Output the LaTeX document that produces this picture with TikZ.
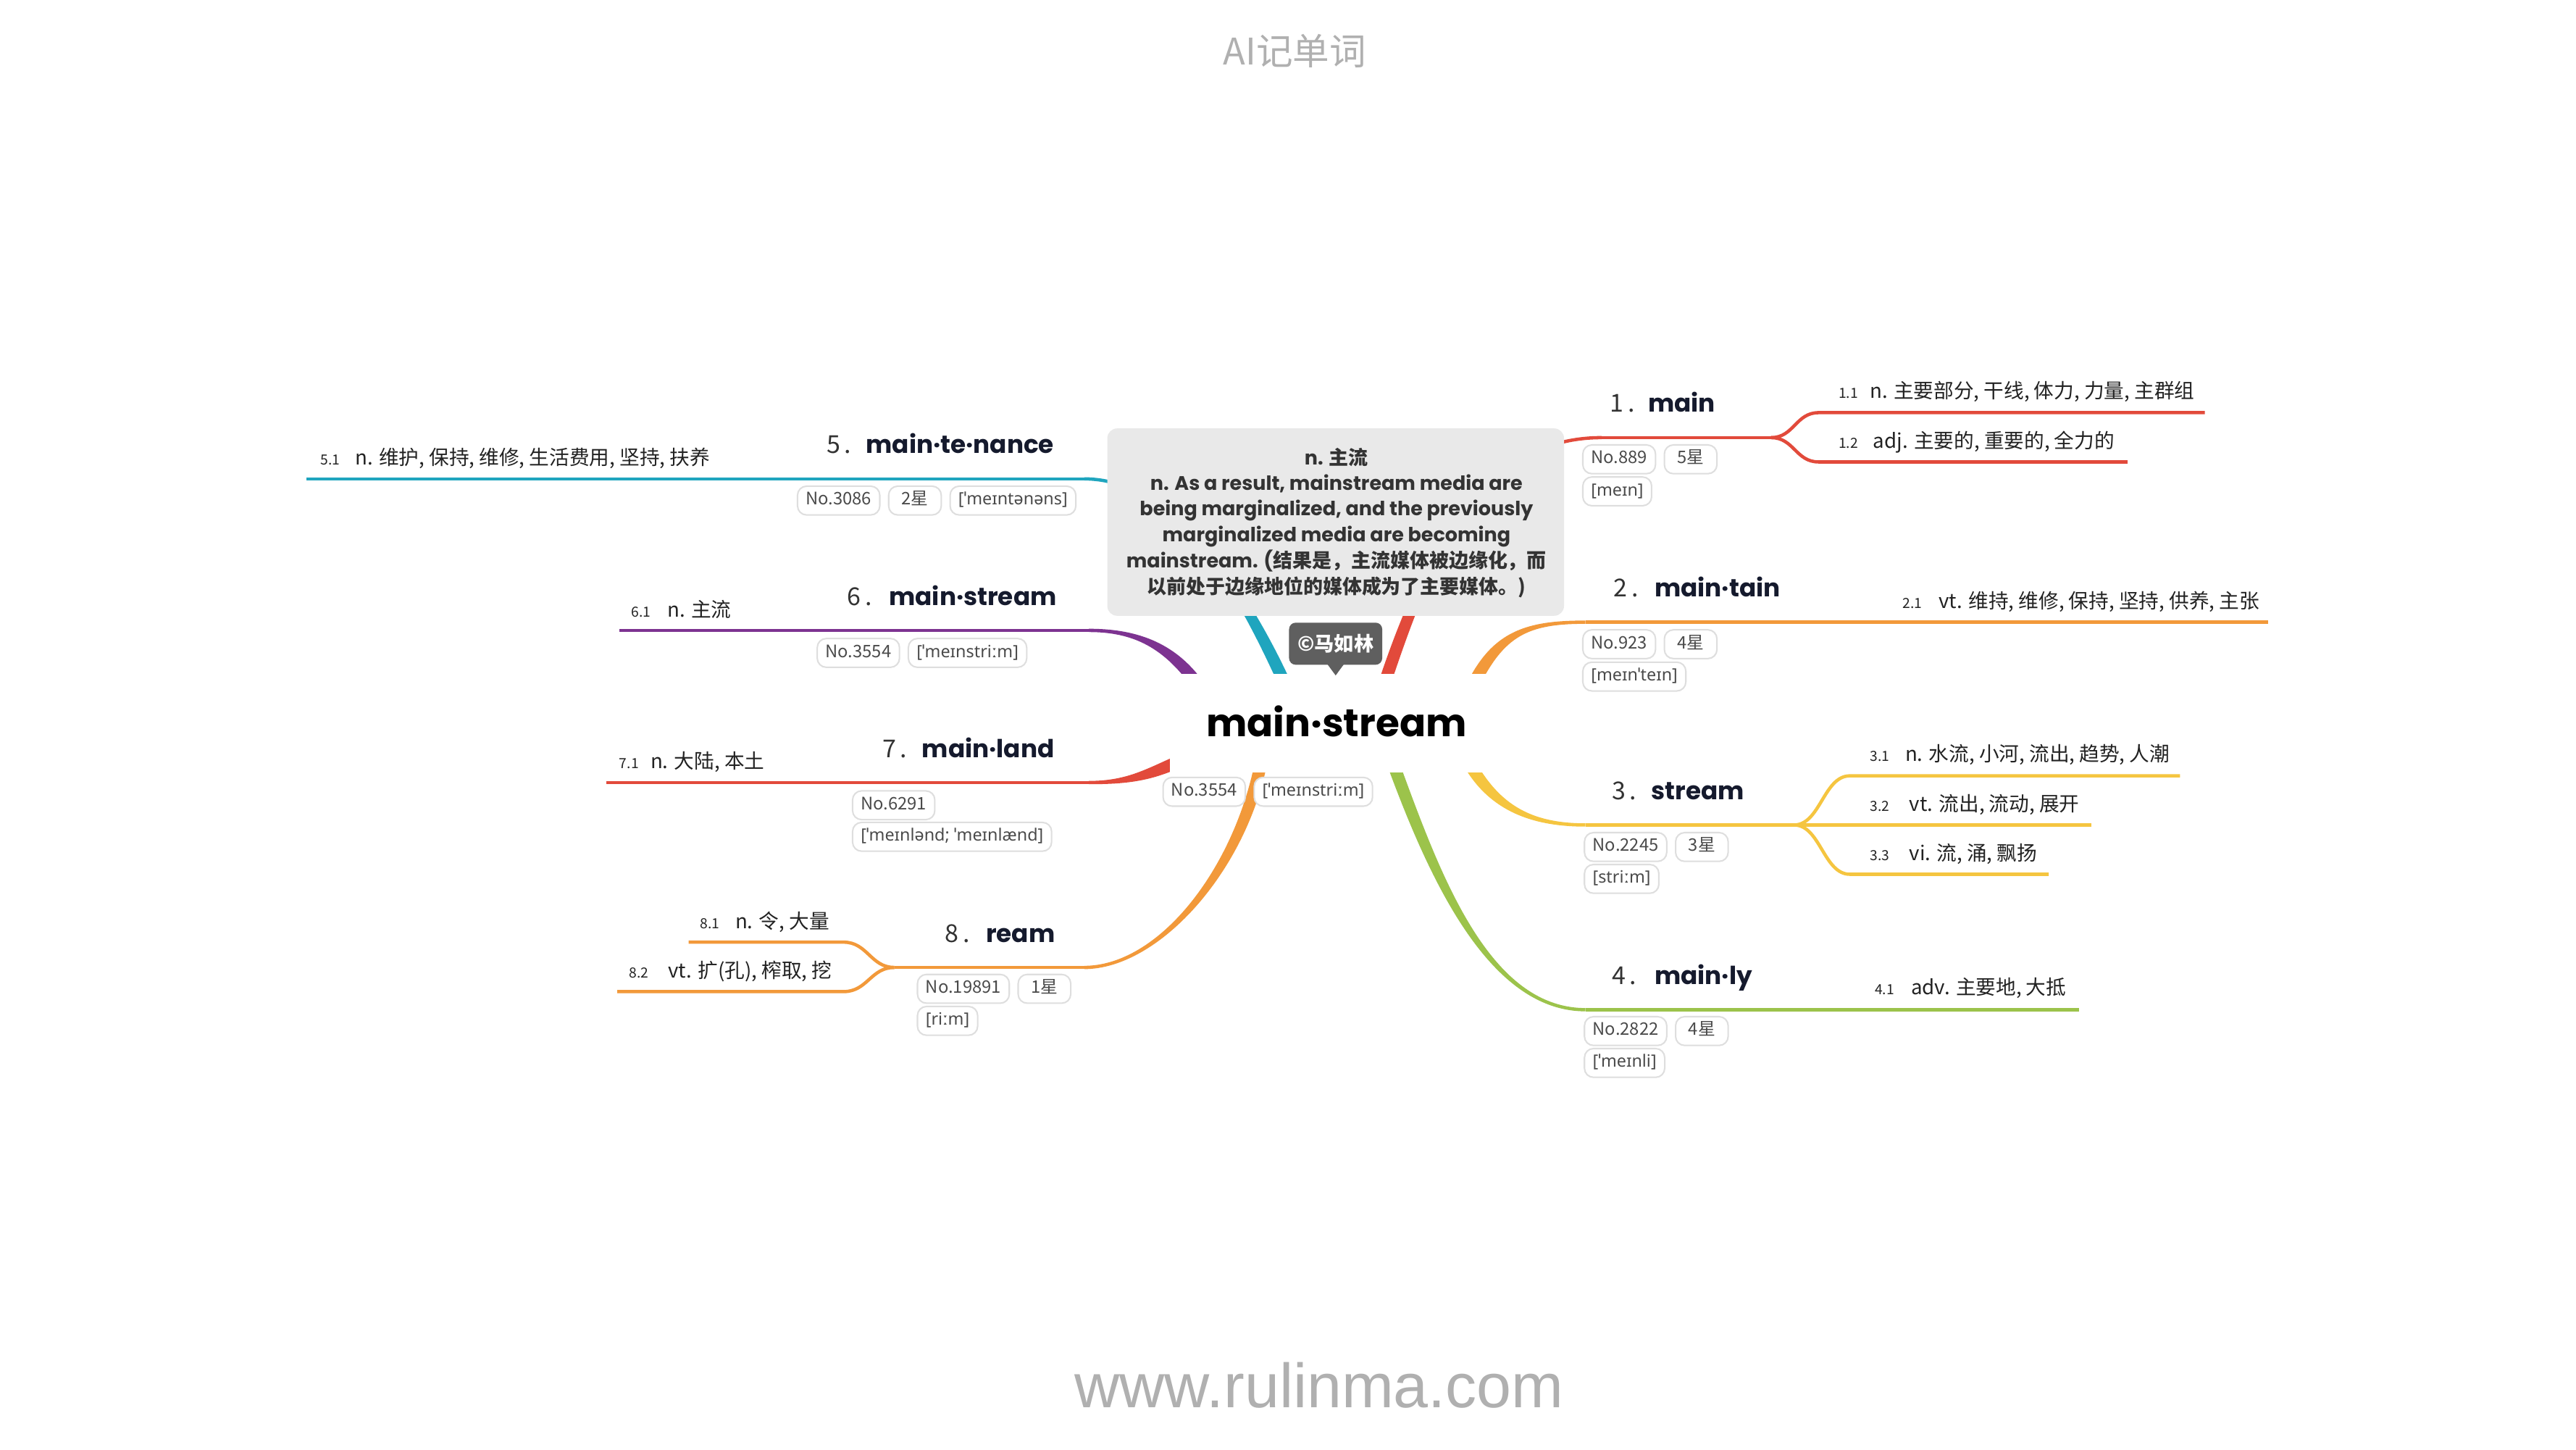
\documentclass[tikz,border=0pt]{standalone}
\usepackage{fontspec}
\setmainfont{Noto Sans CJK SC}
\newfontfamily\popf{Poppins}
\newfontfamily\ipaf{Noto Sans}
\newfontfamily\webf{Liberation Sans}
\usetikzlibrary{calc}
\definecolor{cRed}{HTML}{E24A3B}
\definecolor{cOrange}{HTML}{F2993A}
\definecolor{cYellow}{HTML}{F5C540}
\definecolor{cGreen}{HTML}{9CC34B}
\definecolor{cTeal}{HTML}{1FA5BE}
\definecolor{cPurple}{HTML}{7D3391}
\definecolor{pillBorder}{HTML}{DEDEDE}
\definecolor{pillText}{HTML}{4A4A4A}
\definecolor{headText}{HTML}{151A2D}
\definecolor{numText}{HTML}{333333}
\definecolor{defText}{HTML}{222222}
\definecolor{calloutGray}{HTML}{E9E9E9}
\definecolor{calloutText}{HTML}{333333}
\definecolor{labelGray}{HTML}{5F5F5F}
\definecolor{markGray}{HTML}{B0B0B0}
\newcommand{\setfs}[1]{\fontsize{#1}{#1}\selectfont}
% tapered branch: colour, P0 (thick end), C1, C2, P3 (thin end), half width at P0, half width at P3
\newcommand{\branchtaper}[7]{%
  \fill[#1] ($(#2)!#6!90:(#3)$) .. controls ($(#3)!#6!-90:(#2)$) and ($(#4)!#7!90:(#5)$) .. ($(#5)!#7!-90:(#4)$)
    -- ($(#5)!#7!90:(#4)$) .. controls ($(#4)!#7!-90:(#5)$) and ($(#3)!#6!90:(#2)$) .. ($(#2)!#6!-90:(#3)$) -- cycle;}
\tikzset{
  pill/.style={draw=pillBorder, line width=0.9pt, fill=white, rounded corners=5.5pt, inner xsep=5pt, inner ysep=0pt,
    minimum height=17.5pt, text height=7.6pt, text depth=2.2pt, font=\setfs{10.5}, text=pillText, anchor=west},
  starpill/.style={pill, minimum width=32pt},
  ipapill/.style={pill, font=\ipaf\setfs{10.3}},
  headnum/.style={inner sep=0pt, anchor=base west, font=\setfs{15}, text=numText},
  headword/.style={inner sep=0pt, anchor=base west, font=\popf\bfseries\setfs{15.1}, text=headText},
  subnum/.style={inner sep=0pt, anchor=base west, font=\setfs{8.5}, text=defText},
  deftext/.style={inner sep=0pt, anchor=base west, font=\setfs{12.2}, text=defText},
  calloutline/.style={inner sep=0pt, anchor=base, font=\bfseries\setfs{11.9}, text=calloutText},
  thinbranch/.style={line width=2pt},
}
\begin{document}
\begin{tikzpicture}[x=1pt,y=-1pt]
\useasboundingbox (0,0) rectangle (1568,882);
\fill[white] (0,0) rectangle (1568,882);

% ---------- branch coordinates ----------
\coordinate (b1p0) at (842,418);   \coordinate (b1c1) at (868,340);   \coordinate (b1c2) at (900,266.3); \coordinate (b1p3) at (975,266.3);
\coordinate (b1f) at (1078,266.3);
\coordinate (s11c1) at (1092,266.3); \coordinate (s11c2) at (1093,251.1); \coordinate (s11s) at (1107,251.1); \coordinate (s11e) at (1342,251.1);
\coordinate (s12c1) at (1092,266.3); \coordinate (s12c2) at (1093,281.1); \coordinate (s12s) at (1107,281.1); \coordinate (s12e) at (1295,281.1);

\coordinate (b2p0) at (896,418);   \coordinate (b2c1) at (912,385);   \coordinate (b2c2) at (930,378.6); \coordinate (b2p3) at (965,378.6);
\coordinate (b2e) at (1380.6,378.6);

\coordinate (b3p0) at (893,462);   \coordinate (b3c1) at (908,490);   \coordinate (b3c2) at (930,502);   \coordinate (b3p3) at (965,502);
\coordinate (b3f) at (1092,502);   \coordinate (s32e) at (1273,502);
\coordinate (s31c1) at (1108,502); \coordinate (s31c2) at (1110,472.1); \coordinate (s31s) at (1126,472.1); \coordinate (s31e) at (1327,472.1);
\coordinate (s33c1) at (1108,502); \coordinate (s33c2) at (1110,532);   \coordinate (s33s) at (1126,532);   \coordinate (s33e) at (1247,532);

\coordinate (b4p0) at (847,462);   \coordinate (b4c1) at (872,530);   \coordinate (b4c2) at (905,614.4); \coordinate (b4p3) at (965,614.4);
\coordinate (b4e) at (1265.4,614.4);

\coordinate (b5p0) at (783,418);   \coordinate (b5c1) at (762,372);   \coordinate (b5c2) at (720,291.4); \coordinate (b5p3) at (660,291.4);
\coordinate (b5e) at (186.5,291.4);

\coordinate (b6p0) at (730,418);   \coordinate (b6c1) at (712,392);   \coordinate (b6c2) at (690,383.6); \coordinate (b6p3) at (662.8,383.6);
\coordinate (b6e) at (377,383.6);

\coordinate (b7p0) at (716,464);   \coordinate (b7c1) at (698,472);   \coordinate (b7c2) at (685,476.2); \coordinate (b7p3) at (662.8,476.2);
\coordinate (b7e) at (369,476.2);

\coordinate (b8p0) at (768,462);   \coordinate (b8c1) at (755,530);   \coordinate (b8c2) at (705,588.7); \coordinate (b8p3) at (660,588.7);
\coordinate (b8f) at (544.4,588.7);
\coordinate (s81c1) at (530,588.7); \coordinate (s81c2) at (528,573.3); \coordinate (s81s) at (513.5,573.3); \coordinate (s81e) at (419.2,573.3);
\coordinate (s82c1) at (530,588.7); \coordinate (s82c2) at (528,603.4); \coordinate (s82s) at (513.5,603.4); \coordinate (s82e) at (375.7,603.4);

% ---------- branches ----------
\branchtaper{cRed}{b1p0}{b1c1}{b1c2}{b1p3}{3.75pt}{1pt}
\draw[thinbranch, cRed] (b1p3) -- (b1f);
\draw[thinbranch, cRed] (b1f) .. controls (s11c1) and (s11c2) .. (s11s) -- (s11e);
\draw[thinbranch, cRed] (b1f) .. controls (s12c1) and (s12c2) .. (s12s) -- (s12e);

\branchtaper{cOrange}{b2p0}{b2c1}{b2c2}{b2p3}{3.75pt}{1pt}
\draw[thinbranch, cOrange] (b2p3) -- (b2e);

\branchtaper{cYellow}{b3p0}{b3c1}{b3c2}{b3p3}{3.75pt}{1pt}
\draw[thinbranch, cYellow] (b3p3) -- (s32e);
\draw[thinbranch, cYellow] (b3f) .. controls (s31c1) and (s31c2) .. (s31s) -- (s31e);
\draw[thinbranch, cYellow] (b3f) .. controls (s33c1) and (s33c2) .. (s33s) -- (s33e);

\branchtaper{cGreen}{b4p0}{b4c1}{b4c2}{b4p3}{3.75pt}{1pt}
\draw[thinbranch, cGreen] (b4p3) -- (b4e);

\branchtaper{cTeal}{b5p0}{b5c1}{b5c2}{b5p3}{3.75pt}{1pt}
\draw[thinbranch, cTeal] (b5p3) -- (b5e);

\branchtaper{cPurple}{b6p0}{b6c1}{b6c2}{b6p3}{3.75pt}{1pt}
\draw[thinbranch, cPurple] (b6p3) -- (b6e);

\branchtaper{cRed}{b7p0}{b7c1}{b7c2}{b7p3}{3.75pt}{1pt}
\draw[thinbranch, cRed] (b7p3) -- (b7e);

\branchtaper{cOrange}{b8p0}{b8c1}{b8c2}{b8p3}{3.75pt}{1pt}
\draw[thinbranch, cOrange] (b8p3) -- (b8f);
\draw[thinbranch, cOrange] (b8f) .. controls (s81c1) and (s81c2) .. (s81s) -- (s81e);
\draw[thinbranch, cOrange] (b8f) .. controls (s82c1) and (s82c2) .. (s82s) -- (s82e);

% ---------- centre ----------
\node[fill=white, minimum width=203pt, minimum height=60pt, inner sep=0pt] (center) at (813.5,440) {};
\node[inner sep=0pt, anchor=base, font=\popf\bfseries\setfs{23.5}, text=black] (centerword) at (813.5,448.2) {main·stream};

% ---------- callout ----------
\node[fill=calloutGray, rounded corners=6pt, minimum width=278pt, minimum height=114pt, inner sep=0pt] (callout) at (813,317.7) {};
\node[calloutline] (cl1) at (813.5,282.8) {{\popf n.} 主流};
\node[calloutline] (cl2) at (813.5,298.3) {\popf n. As a result, mainstream media are};
\node[calloutline] (cl3) at (813.5,313.9) {\popf being marginalized, and the previously};
\node[calloutline] (cl4) at (813.5,329.6) {\popf marginalized media are becoming};
\node[calloutline] (cl5) at (813.5,345.6) {{\popf mainstream. (}结果是，主流媒体被边缘化，而};
\node[calloutline] (cl6) at (813.5,361.4) {以前处于边缘地位的媒体成为了主要媒体。)};

\node[fill=labelGray, rounded corners=4pt, text=white, font=\bfseries\setfs{12}, minimum width=56.7pt, minimum height=25.6pt, inner sep=0pt] (author) at (813,391.7) {©马如林};
\fill[labelGray] ($(author.south)+(-5,-0.5)$) -- ($(author.south)+(5,-0.5)$) -- ($(author.south)+(0,6.3)$) -- cycle;

% ---------- headings ----------
\node[headnum] (h1num) at (980,250.8) {1\,.};   \node[headword] (h1) at (1003,250.8) {main};
\node[headnum] (h2num) at (982,363.1) {2\,.};   \node[headword] (h2) at (1007,363.1) {main·tain};
\node[headnum] (h3num) at (981,486.8) {3\,.};   \node[headword] (h3) at (1005,486.8) {stream};
\node[headnum] (h4num) at (981,599) {4\,.};     \node[headword] (h4) at (1007,599) {main·ly};
\node[headnum] (h5num) at (503,275.6) {5\,.};   \node[headword] (h5) at (527,275.6) {main·te·nance};
\node[headnum] (h6num) at (515.5,368.6) {6\,.}; \node[headword] (h6) at (541,368.6) {main·stream};
\node[headnum] (h7num) at (537,461.2) {7\,.};   \node[headword] (h7) at (561,461.2) {main·land};
\node[headnum] (h8num) at (575,573.3) {8\,.};   \node[headword] (h8) at (600,573.3) {ream};

% ---------- definitions ----------
\node[subnum] (d11n) at (1119,242.4) {1.1};   \node[deftext] (d11) at (1138,242.4) {n. 主要部分, 干线, 体力, 力量, 主群组};
\node[subnum] (d12n) at (1119,272.7) {1.2};   \node[deftext] (d12) at (1140,272.7) {adj. 主要的, 重要的, 全力的};
\node[subnum] (d21n) at (1158,370.3) {2.1};   \node[deftext] (d21) at (1180,370.3) {vt. 维持, 维修, 保持, 坚持, 供养, 主张};
\node[subnum] (d31n) at (1138,463.4) {3.1};   \node[deftext] (d31) at (1159.5,463.4) {n. 水流, 小河, 流出, 趋势, 人潮};
\node[subnum] (d32n) at (1138,493.6) {3.2};   \node[deftext] (d32) at (1162,493.6) {vt. 流出, 流动, 展开};
\node[subnum] (d33n) at (1138,523.7) {3.3};   \node[deftext] (d33) at (1162,523.7) {vi. 流, 涌, 飘扬};
\node[subnum] (d41n) at (1141,605.3) {4.1};   \node[deftext] (d41) at (1163,605.3) {adv. 主要地, 大抵};
\node[subnum] (d51n) at (195,282.7) {5.1};    \node[deftext] (d51) at (216,282.7) {n. 维护, 保持, 维修, 生活费用, 坚持, 扶养};
\node[subnum] (d61n) at (384,375.3) {6.1};    \node[deftext] (d61) at (406,375.3) {n. 主流};
\node[subnum] (d71n) at (376.8,467.8) {7.1};  \node[deftext] (d71) at (395.8,467.8) {n. 大陆, 本土};
\node[subnum] (d81n) at (426,564.9) {8.1};    \node[deftext] (d81) at (447.4,564.9) {n. 令, 大量};
\node[subnum] (d82n) at (382.7,595) {8.2};    \node[deftext] (d82) at (406.6,595) {vt. 扩(孔), 榨取, 挖};

% ---------- pills ----------
\node[pill] (n1) at (963,279.5) {No.889};
\node[starpill] (s1) at ([xshift=4.5pt]n1.east) {5星};
\node[ipapill] (i1) at (963,299) {[meɪn]};

\node[pill] (n2) at (963,392) {No.923};
\node[starpill] (s2) at ([xshift=4.5pt]n2.east) {4星};
\node[ipapill] (i2) at (963,411.7) {[meɪnˈteɪn]};

\node[pill] (n3) at (964,515.4) {No.2245};
\node[starpill] (s3) at ([xshift=4.5pt]n3.east) {3星};
\node[ipapill] (i3) at (964,534.8) {[striːm]};

\node[pill] (n4) at (964,627.4) {No.2822};
\node[starpill] (s4) at ([xshift=4.5pt]n4.east) {4星};
\node[ipapill] (i4) at (964,646.8) {[ˈmeɪnli]};

\node[pill] (n5) at (485,304.6) {No.3086};
\node[starpill] (s5) at ([xshift=4.5pt]n5.east) {2星};
\node[ipapill] (i5) at ([xshift=4.5pt]s5.east) {[ˈmeɪntənəns]};

\node[pill] (n6) at (497,397.3) {No.3554};
\node[ipapill] (i6) at ([xshift=4.5pt]n6.east) {[ˈmeɪnstriːm]};

\node[pill] (n7) at (518.5,490) {No.6291};
\node[ipapill] (i7) at (518.5,509.2) {[ˈmeɪnlənd; ˈmeɪnlænd]};

\node[pill] (n8) at (558,601.7) {No.19891};
\node[starpill] (s8) at ([xshift=4.5pt]n8.east) {1星};
\node[ipapill] (i8) at (558,621.2) {[riːm]};

\node[pill] (nc) at (707.5,481.8) {No.3554};
\node[ipapill] (ic) at ([xshift=4.5pt]nc.east) {[ˈmeɪnstriːm]};

% ---------- marks ----------
\node[inner sep=0pt, font=\setfs{22.3}, text=markGray] (title) at (788,31) {AI记单词};
\node[inner sep=0pt, font=\webf\setfs{38}, text=markGray] (site) at (803,843) {www.rulinma.com};
\end{tikzpicture}
\end{document}
